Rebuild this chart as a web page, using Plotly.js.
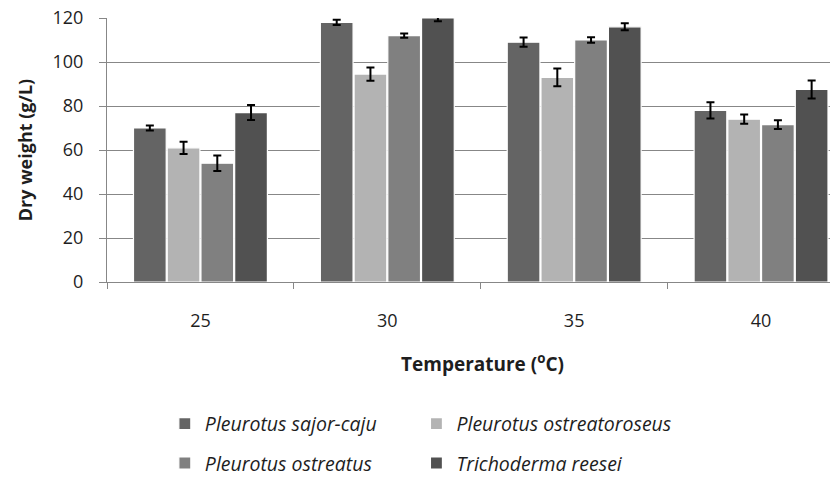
<!DOCTYPE html>
<html>
<head>
<meta charset="utf-8">
<script src="https://cdn.plot.ly/plotly-3.0.1.min.js"></script>
<style>html,body{margin:0;padding:0;background:#fff;}#chart{width:830px;height:477px;}</style>
</head>
<body>
<div id="chart"></div>
<script>
const temperatures = ['25', '30', '35', '40'];
const seriesNames = ['Pleurotus sajor-caju', 'Pleurotus ostreatoroseus', 'Pleurotus ostreatus', 'Trichoderma reesei'];
const sajorCaju = [70, 118, 109, 78];
const sajorCajuErr = [1.1, 1.2, 2.1, 3.7];
const ostreatoroseus = [61, 94.5, 93, 74];
const ostreatoroseusErr = [2.8, 3, 4, 2.1];
const ostreatus = [54, 112, 110, 71.5];
const ostreatusErr = [3.5, 1, 1.3, 2];
const reesei = [77, 120, 116, 87.5];
const reeseiErr = [3.4, 1.5, 1.6, 4.1];
const yTicks = [0, 20, 40, 60, 80, 100, 120];

const colors = ['#646464', '#b3b3b3', '#808080', '#515151'];
const values = [sajorCaju, ostreatoroseus, ostreatus, reesei];
const errs = [sajorCajuErr, ostreatoroseusErr, ostreatusErr, reeseiErr];
const legendIds = ['legend', 'legend2', 'legend', 'legend2'];

const traces = values.map((v, i) => ({
  type: 'bar',
  name: seriesNames[i],
  x: temperatures,
  y: v,
  legend: legendIds[i],
  legendgroup: 'g' + i,
  marker: {color: colors[i], line: {color: '#ffffff', width: 1.2}},
  error_y: {type: 'data', array: errs[i], visible: true, color: '#000000', thickness: 2, width: 4}
}));

const legendFont = {family: 'Open Sans', size: 19.5, color: '#1e1e1e', style: 'italic'};

const layout = {
  width: 830,
  height: 477,
  margin: {l: 107, r: 0, t: 18, b: 195, autoexpand: false},
  paper_bgcolor: '#ffffff',
  plot_bgcolor: '#ffffff',
  barmode: 'group',
  bargap: 0.278,
  bargroupgap: 0.03,
  showlegend: true,
  font: {family: 'Open Sans', color: '#1e1e1e'},
  xaxis: {
    type: 'category',
    range: [-0.5, 3.369],
    showline: true,
    linecolor: '#878787',
    linewidth: 1,
    ticks: 'outside',
    tickson: 'boundaries',
    ticklen: 6,
    tickcolor: '#878787',
    tickfont: {family: 'Open Sans', size: 18, color: '#1e1e1e'},
    ticklabelstandoff: 22,
    showgrid: false,
    zeroline: false,
    automargin: false
  },
  yaxis: {
    range: [0, 120],
    tickvals: yTicks,
    ticktext: yTicks.map(String),
    showline: true,
    linecolor: '#878787',
    linewidth: 1,
    ticks: 'outside',
    ticklen: 7,
    tickcolor: '#878787',
    tickfont: {family: 'Open Sans', size: 18, color: '#1e1e1e'},
    ticklabelstandoff: 12,
    showgrid: true,
    gridcolor: '#878787',
    gridwidth: 1,
    zeroline: false,
    automargin: false,
    title: {text: 'Dry weight (g/L)', font: {family: 'Open Sans', size: 18, color: '#1e1e1e', weight: 'bold'}, standoff: 15}
  },
  legend: {
    x: 0.08, y: -0.464, xanchor: 'left', yanchor: 'top',
    orientation: 'v', traceorder: 'grouped', tracegroupgap: 11,
    font: legendFont, bgcolor: 'rgba(0,0,0,0)', borderwidth: 0
  },
  legend2: {
    x: 0.428, y: -0.464, xanchor: 'left', yanchor: 'top',
    orientation: 'v', traceorder: 'grouped', tracegroupgap: 11,
    font: legendFont, bgcolor: 'rgba(0,0,0,0)', borderwidth: 0
  },
  annotations: [{
    text: 'Temperature (<sup>o</sup>C)',
    xref: 'paper', yref: 'paper',
    x: (482 - 107) / 723, y: (282 - 363) / 264,
    xanchor: 'center', yanchor: 'middle',
    showarrow: false,
    font: {family: 'Open Sans', size: 19, color: '#1e1e1e', weight: 'bold'}
  }]
};

Plotly.newPlot('chart', traces, layout, {displayModeBar: false, staticPlot: true});
</script>
</body>
</html>
